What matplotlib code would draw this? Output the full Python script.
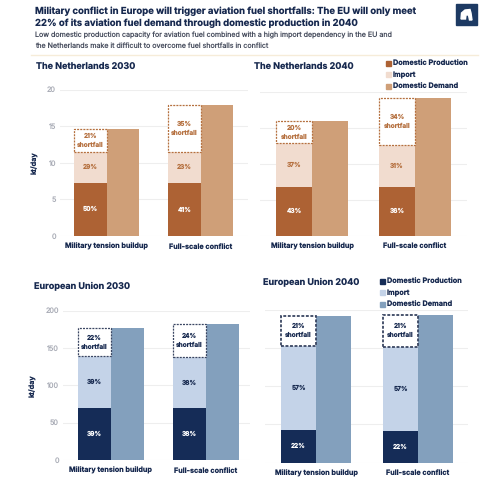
import numpy as np
import matplotlib
matplotlib.use('Agg')
import matplotlib.pyplot as plt
from matplotlib.patches import Patch, Rectangle, Polygon

plt.rcParams['font.family'] = ['Inter', 'DejaVu Sans']
plt.rcParams['text.hinting'] = 'none'

W, H = 500, 482

scenarios = ['Military tension buildup', 'Full-scale conflict']
legend_labels = ['Domestic Production', 'Import', 'Domestic Demand']

# kt/day for each scenario
nl30_domestic = [7.3, 7.2]
nl30_import = [4.2, 4.3]
nl30_shortfall = [3.1, 6.4]
nl30_demand = [14.6, 17.9]
nl30_pct = [[50, 29, 21], [41, 23, 35]]

nl40_domestic = [6.8, 6.8]
nl40_import = [6.0, 5.8]
nl40_shortfall = [3.1, 6.5]
nl40_demand = [15.9, 19.1]
nl40_pct = [[43, 37, 20], [36, 31, 34]]

eu30_domestic = [69.5, 69.0]
eu30_import = [69.5, 69.0]
eu30_shortfall = [37.0, 44.0]
eu30_demand = [176, 182]
eu30_pct = [[39, 39, 22], [38, 38, 24]]

eu40_domestic = [43, 41.5]
eu40_import = [110, 110]
eu40_shortfall = [39.5, 41.9]
eu40_demand = [192.5, 193.4]
eu40_pct = [[22, 57, 21], [22, 57, 21]]

NAVY = '#17294f'
GREY = '#a9acb6'
BROWN = {'dom': '#ad6234', 'imp': '#f1dccf', 'dem': '#cf9f78', 'txt': '#b5703f'}
BLUE = {'dom': '#152c57', 'imp': '#c4d3e8', 'dem': '#83a0bd', 'txt': NAVY}

fig = plt.figure(figsize=(W / 100, H / 100), dpi=100, facecolor='white')


def panel(box, ymax, yticks, centers, bw, dom, imp, short, dem, pct, pal,
          title, title_xy, show_y=True, dash_lw=0.9):
    """box = (x0, x1, y_bottom, y_top) in pixels, y measured from the top"""
    x0, x1, yb, yt = box
    ax = fig.add_axes([x0 / W, 1 - yb / H, (x1 - x0) / W, (yb - yt) / H])
    step = centers[1] - centers[0]
    ax.set_xlim((x0 - centers[0]) / step, (x1 - centers[0]) / step)
    ax.set_ylim(0, ymax)
    ax.patch.set_alpha(0)
    w = bw / step
    x = np.arange(len(dom))
    dom, imp, short = np.array(dom), np.array(imp), np.array(short)

    ax.bar(x - w / 2, dom, w, color=pal['dom'], zorder=3)
    ax.bar(x - w / 2, imp, w, bottom=dom, color=pal['imp'], zorder=3)
    ax.bar(x - w / 2, short, w, bottom=dom + imp, facecolor='white',
           edgecolor=pal['txt'] if pal is BROWN else '#3a4662',
           linestyle=(0, (1.6, 0.9)), linewidth=dash_lw, zorder=4)
    ax.bar(x + w / 2, dem, w, color=pal['dem'], zorder=3)

    for i in x:
        ax.text(i - w / 2, dom[i] / 2, f'{pct[i][0]}%', color='white',
                ha='center', va='center', fontsize=4.7, fontweight='bold', zorder=5)
        ax.text(i - w / 2, dom[i] + imp[i] / 2, f'{pct[i][1]}%', color=pal['txt'],
                ha='center', va='center', fontsize=4.7, fontweight='bold', zorder=5)
        ax.text(i - w / 2, dom[i] + imp[i] + short[i] / 2,
                f'{pct[i][2]}%\nshortfall', color=pal['txt'], ha='center',
                va='center', fontsize=4.7, fontweight='bold', linespacing=1.5, zorder=5)

    ax.set_yticks(yticks)
    ax.grid(axis='y', color='#eeeeee', lw=0.8, zorder=0)
    ax.set_axisbelow(True)
    for s in ax.spines.values():
        s.set_visible(False)
    ax.tick_params(axis='both', length=0)
    ax.tick_params(axis='y', labelsize=5.2, labelcolor=GREY, pad=3)
    if show_y:
        ax.set_ylabel('kt/day', fontsize=5.2, fontweight='bold', color=NAVY, labelpad=6)
    else:
        ax.set_yticklabels([])
    ax.set_xticks(x)
    ax.set_xticklabels(scenarios, fontsize=5.2, fontweight='bold', color=NAVY)
    ax.tick_params(axis='x', pad=5)
    fig.text(title_xy[0] / W, 1 - title_xy[1] / H, title, fontsize=6.5,
             fontweight='bold', color=NAVY, va='center')
    return ax


panel((60, 248, 236, 89.5), 20, [0, 5, 10, 15, 20], (106.5, 200.5), 32.5,
      nl30_domestic, nl30_import, nl30_shortfall, nl30_demand, nl30_pct, BROWN,
      'The Netherlands 2030', (36, 67.5))
panel((260, 467, 235.5, 91.5), 20, [0, 5, 10, 15, 20], (312, 415), 36,
      nl40_domestic, nl40_import, nl40_shortfall, nl40_demand, nl40_pct, BROWN,
      'The Netherlands 2040', (254, 67), show_y=False)
panel((63, 250, 460, 310.5), 200, [0, 50, 100, 150, 200], (110.5, 205.5), 33,
      eu30_domestic, eu30_import, eu30_shortfall, eu30_demand, eu30_pct, BLUE,
      'European Union 2030', (34, 286))
panel((265, 468, 462.5, 310), 200, [0, 50, 100, 150, 200], (316, 418), 35,
      eu40_domestic, eu40_import, eu40_shortfall, eu40_demand, eu40_pct, BLUE,
      'European Union 2040', (263, 282), show_y=False, dash_lw=1.3)


def add_legend(pal, x, y):
    handles = [Patch(color=pal['dom']), Patch(color=pal['imp']), Patch(color=pal['dem'])]
    fig.legend(handles, legend_labels, loc='upper left',
               bbox_to_anchor=(x / W, 1 - y / H), frameon=False,
               handlelength=0.7, handleheight=0.7, handletextpad=0.25,
               labelspacing=0.62, borderpad=0, borderaxespad=0,
               labelcolor=NAVY, prop={'size': 5.25, 'weight': 'bold'})


add_legend(BROWN, 386, 60)
add_legend(BLUE, 380, 278)

# heading block
fig.text(35 / W, 1 - 11 / H,
         'Military conflict in Europe will trigger aviation fuel shortfalls: The EU will only meet',
         fontsize=6.85, fontweight='bold', color=NAVY, va='center')
fig.text(35 / W, 1 - 23.5 / H,
         '22% of its aviation fuel demand through domestic production in 2040',
         fontsize=6.85, fontweight='bold', color=NAVY, va='center')
fig.text(35 / W, 1 - 35.5 / H,
         'Low domestic production capacity for aviation fuel combined with a high import dependency in the EU and',
         fontsize=5.1, color='#4a5060', va='center')
fig.text(35 / W, 1 - 46 / H,
         'the Netherlands make it difficult to overcome fuel shortfalls in conflict',
         fontsize=5.1, color='#4a5060', va='center')

# rule under the heading
fig.add_artist(plt.Line2D([31 / W, 478 / W], [1 - 54.5 / H] * 2, color='#f6ecd9', lw=1))

# logo
fig.add_artist(Rectangle((456 / W, 1 - 24.5 / H), 20.5 / W, 20.5 / H, color='#1d3a63',
                         transform=fig.transFigure))
logo = [(461, 19), (461.5, 13), (465, 10), (470, 9.5), (471, 13), (472, 20),
        (469.5, 20), (468.5, 15), (466, 15), (465.5, 19)]
fig.add_artist(Polygon([(a / W, 1 - b / H) for a, b in logo], color='white',
                       transform=fig.transFigure))

fig.savefig('out.png', dpi=100)
